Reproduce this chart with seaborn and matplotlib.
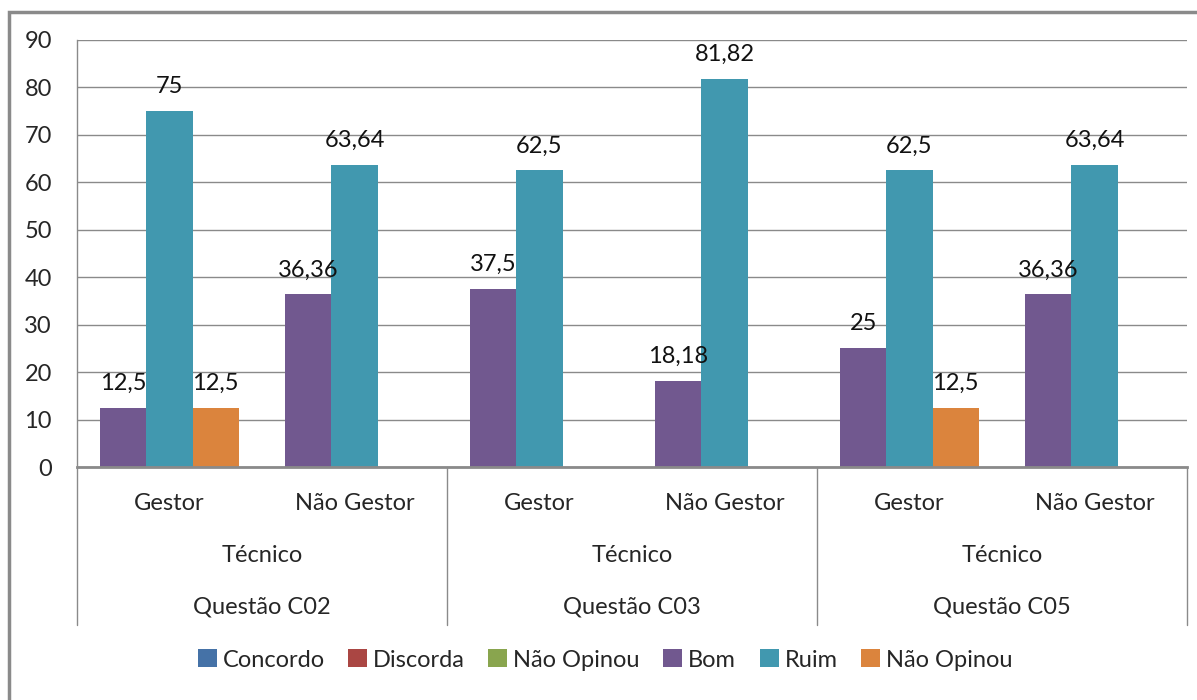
import pandas as pd
import numpy as np
import matplotlib
matplotlib.use("Agg")
import matplotlib.pyplot as plt
from matplotlib.patches import Patch, Rectangle
import matplotlib.transforms as mtransforms
import seaborn as sns

# chart data
questions = ["Questão C02", "Questão C03", "Questão C05"]
roles = ["Gestor", "Não Gestor"]
group_label = "Técnico"
bom = [12.5, 36.36, 37.5, 18.18, 25, 36.36]
ruim = [75, 63.64, 62.5, 81.82, 62.5, 63.64]
nao_opinou = [12.5, None, None, None, 12.5, None]

legend_names = ["Concordo", "Discorda", "Não Opinou", "Bom", "Ruim", "Não Opinou "]
legend_colors = ["#4572A7", "#AA4643", "#89A54E", "#71588F", "#4198AF", "#DB843D"]

# long format table
keys = [f"{q}|{r}" for q in questions for r in roles]
rows = []
for series, vals in [("Bom", bom), ("Ruim", ruim), ("Não Opinou ", nao_opinou)]:
    for k, v in zip(keys, vals):
        if v is not None:
            rows.append({"cat": k, "serie": series, "valor": v})
df = pd.DataFrame(rows)

sns.set_style("white")
plt.rcParams['font.family'] = ['Lato', 'DejaVu Sans']
FS = 17

fig = plt.figure(figsize=(11.97, 7.0), dpi=100)
ax = fig.add_axes([77 / 1197, 1 - 467 / 700, (1187 - 77) / 1197, 427 / 700])

sns.barplot(data=df, x="cat", y="valor", hue="serie", order=keys,
            hue_order=["Bom", "Ruim", "Não Opinou "],
            palette=legend_colors[3:], width=0.75, saturation=1,
            ax=ax, legend=False, errorbar=None, linewidth=0)

for cont in ax.containers:
    ax.bar_label(cont, fmt=lambda v: f"{v:g}".replace(".", ","),
                 padding=10, fontsize=FS, color="#111111")

ax.set_ylim(0, 90)
ax.set_xlim(-0.5, 5.5)
ax.set_yticks(range(0, 91, 10))
ax.yaxis.grid(True, color="#8a8a8a", linewidth=1)
ax.set_axisbelow(True)
ax.tick_params(axis="y", length=0, labelsize=FS, pad=18)
ax.tick_params(axis="x", length=0, labelsize=FS, pad=19)
ax.set_xticks(range(6))
ax.set_xticklabels(roles * 3)
ax.set_xlabel("")
ax.set_ylabel("")
for s in ["top", "right"]:
    ax.spines[s].set_visible(False)
ax.spines["left"].set_color("#8a8a8a")
ax.spines["left"].set_linewidth(1)
ax.spines["bottom"].set_color("#8a8a8a")
ax.spines["bottom"].set_linewidth(2)

# multi-level category labels and separators
trans = mtransforms.blended_transform_factory(ax.transData, ax.transAxes)
for x in [-0.5, 1.5, 3.5, 5.5]:
    ax.plot([x, x], [0, -158 / 427], transform=trans, color="#8a8a8a",
            linewidth=1, clip_on=False)
for i, q in enumerate(questions):
    cx = 2 * i + 0.5
    ax.text(cx, -88 / 427, group_label, transform=trans, ha="center",
            va="center", fontsize=FS)
    ax.text(cx, -140 / 427, q, transform=trans, ha="center",
            va="center", fontsize=FS)

# legend with all six series
handles = [Patch(facecolor=c, edgecolor="none") for c in legend_colors]
fig.legend(handles, [n.strip() for n in legend_names], loc="center",
           bbox_to_anchor=(605 / 1197, 1 - 660 / 700), ncol=6, frameon=False,
           fontsize=FS, handlelength=0.8, handleheight=0.8,
           handletextpad=0.25, columnspacing=1.0)

# outer chart border
fig.patches.append(Rectangle((9 / 1197, -0.05), 1.2, 1 - 12 / 700 + 0.05,
                             transform=fig.transFigure, fill=False,
                             edgecolor="#8a8a8a", linewidth=2.5))

fig.savefig("out.png", dpi=100)
